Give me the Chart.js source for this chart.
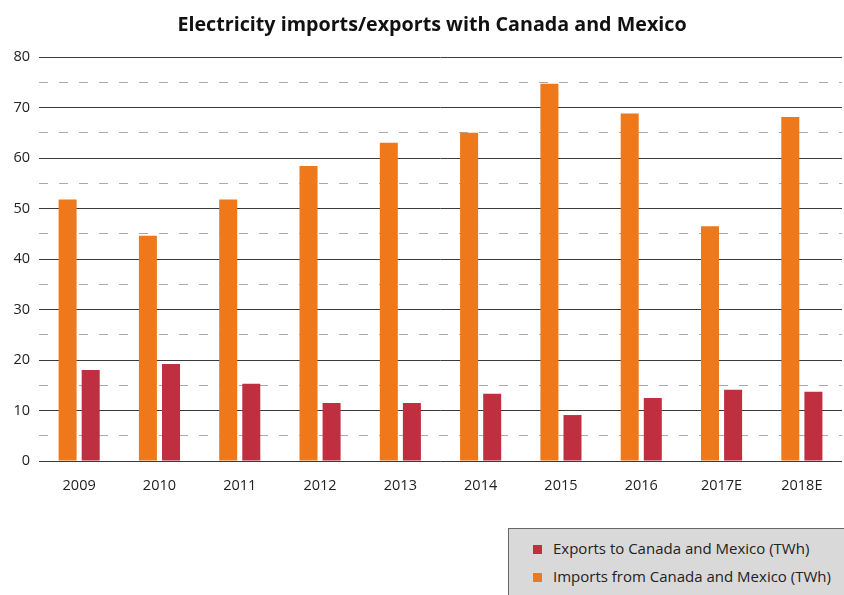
<!DOCTYPE html>
<html>
<head>
<meta charset="utf-8">
<style>
  body { margin: 0; background: #fff; }
  #wrap { position: relative; width: 844px; height: 595px; overflow: hidden; }
  #title {
    position: absolute; left: 0; top: 12px; width: 864px; text-align: center;
    font-family: "Open Sans", sans-serif; font-weight: bold; font-size: 19.7px;
    line-height: 24px; color: #111; white-space: nowrap;
  }
  #legend {
    position: absolute; left: 508px; top: 528px; width: 350px; height: 80px;
    background: #d9d9d9; border: 1px solid #666; box-sizing: border-box;
    font-family: "Open Sans", sans-serif; font-size: 15px; color: #222;
  }
  #legend .item { position: absolute; left: 24px; height: 18px; line-height: 18px; white-space: nowrap; }
  #legend .box { display: inline-block; width: 9px; height: 9px; margin-right: 11px; vertical-align: 0px; }
</style>
</head>
<body>
<div id="wrap">
  <canvas id="tradeChart" width="844" height="595"></canvas>
  <div id="title">Electricity imports/exports with Canada and Mexico</div>
  <div id="legend"></div>
</div>

<script src="https://cdn.jsdelivr.net/npm/chart.js"></script>
<script>
  const years = ["2009", "2010", "2011", "2012", "2013", "2014", "2015", "2016", "2017E", "2018E"];
  const imports = [51.8, 44.6, 51.8, 58.4, 63.0, 65.0, 74.7, 68.8, 46.5, 68.1];
  const exports = [18.0, 19.2, 15.3, 11.5, 11.5, 13.3, 9.1, 12.5, 14.1, 13.7];
  const yTicks = [0, 10, 20, 30, 40, 50, 60, 70, 80];
  const yHalfTicks = [5, 15, 25, 35, 45, 55, 65, 75];

  const orange = "#ee781a";
  const red = "#c02f40";
  const fontFamily = "'Open Sans', sans-serif";

  const chart = new Chart(document.getElementById("tradeChart"), {
    type: "bar",
    data: {
      labels: years,
      datasets: [
        { label: "Imports from Canada and Mexico (TWh)", data: imports, backgroundColor: orange },
        { label: "Exports to Canada and Mexico (TWh)", data: exports, backgroundColor: red },
      ],
    },
    options: {
      responsive: false,
      animation: false,
      layout: { padding: { top: 57, right: 2 } },
      categoryPercentage: 0.575,
      barPercentage: 0.78,
      plugins: {
        legend: { display: false },
        tooltip: { enabled: false },
      },
      scales: {
        x: {
          grid: { display: false },
          border: { display: false },
          ticks: { color: "#222", padding: 8, font: { family: fontFamily, size: 14.5 } },
          afterFit: (s) => { s.height = 134; },
        },
        y: {
          min: 0,
          max: 80,
          afterBuildTicks: (s) => { s.ticks = yTicks.map((v) => ({ value: v })); },
          grid: { color: "#3a3a3a", lineWidth: 1, drawTicks: false },
          border: { display: false },
          ticks: { color: "#222", padding: 9, font: { family: fontFamily, size: 14.5 } },
          afterFit: (s) => { s.width = 39; },
        },
        // dashed lines halfway between the labelled ticks
        y2: {
          position: "left",
          min: 0,
          max: 80,
          afterBuildTicks: (s) => { s.ticks = yHalfTicks.map((v) => ({ value: v })); },
          grid: { color: "#aaaaaa", lineWidth: 1, drawTicks: false },
          border: { display: false, dash: [9, 11] },
          ticks: { display: false },
          afterFit: (s) => { s.width = 0; },
        },
      },
    },
  });

  // legend box, exports listed first
  const legend = document.getElementById("legend");
  chart.data.datasets.slice().reverse().forEach((ds, i) => {
    const item = document.createElement("div");
    item.className = "item";
    item.style.top = (10 + i * 28) + "px";
    item.innerHTML = '<span class="box" style="background:' + ds.backgroundColor + '"></span>' + ds.label;
    legend.appendChild(item);
  });
</script>
</body>
</html>
